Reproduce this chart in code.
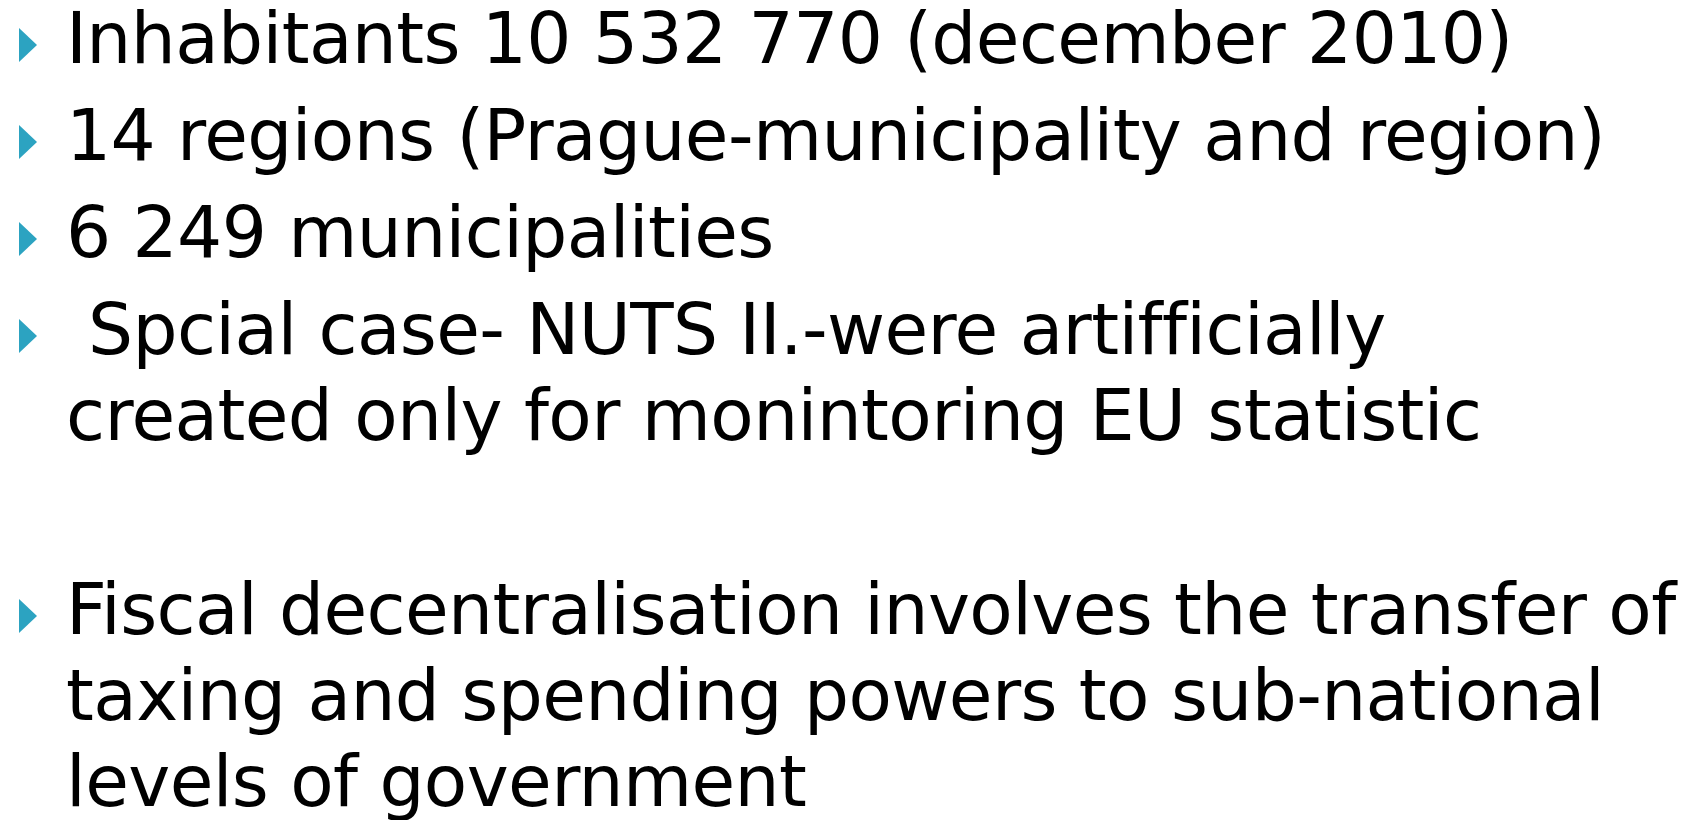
<!DOCTYPE html>
<html>
<head>
<meta charset="utf-8">
<script src="https://cdn.jsdelivr.net/npm/chart.js@4.4.1/dist/chart.umd.min.js"></script>
<style>
  html, body { margin: 0; padding: 0; background: #fff; }
  body { width: 1690px; height: 820px; overflow: hidden; position: relative; }
  #slide {
    position: absolute; left: 0; top: -3.6px;
    font-family: "DejaVu Sans", sans-serif; font-size: 71px; line-height: 86px;
    letter-spacing: -0.6px; color: #000;
  }
  .item { margin: 0 0 11px 0; padding-left: 66px; white-space: pre; }
  .mark {
    display: inline-block; position: relative; top: -1px;
    width: 0; height: 0; vertical-align: baseline;
    margin-left: -47px; margin-right: 29px;
    border-left: 18px solid #2ca3c1;
    border-top: 17.5px solid transparent;
    border-bottom: 17.5px solid transparent;
  }
</style>
</head>
<body>
<div id="slide"></div>
<script>
// slide text: one entry per paragraph, one string per rendered line
const paragraphs = [
  ['Inhabitants 10 532 770 (december 2010)'],
  ['14 regions (Prague-municipality and region)'],
  ['6 249 municipalities'],
  [' Spcial case- NUTS II.-were artifficially', 'created only for monintoring EU statistic'],
  [],
  ['Fiscal decentralisation involves the transfer of', 'taxing and spending powers to sub-national', 'levels of government']
];

const slide = document.getElementById('slide');
paragraphs.forEach(lines => {
  const p = document.createElement('div');
  p.className = 'item';
  if (lines.length) {
    const mark = document.createElement('span');
    mark.className = 'mark';
    p.appendChild(mark);
    p.appendChild(document.createTextNode(lines.join('\n')));
  } else {
    p.textContent = ' ';
  }
  slide.appendChild(p);
});
</script>
</body>
</html>
